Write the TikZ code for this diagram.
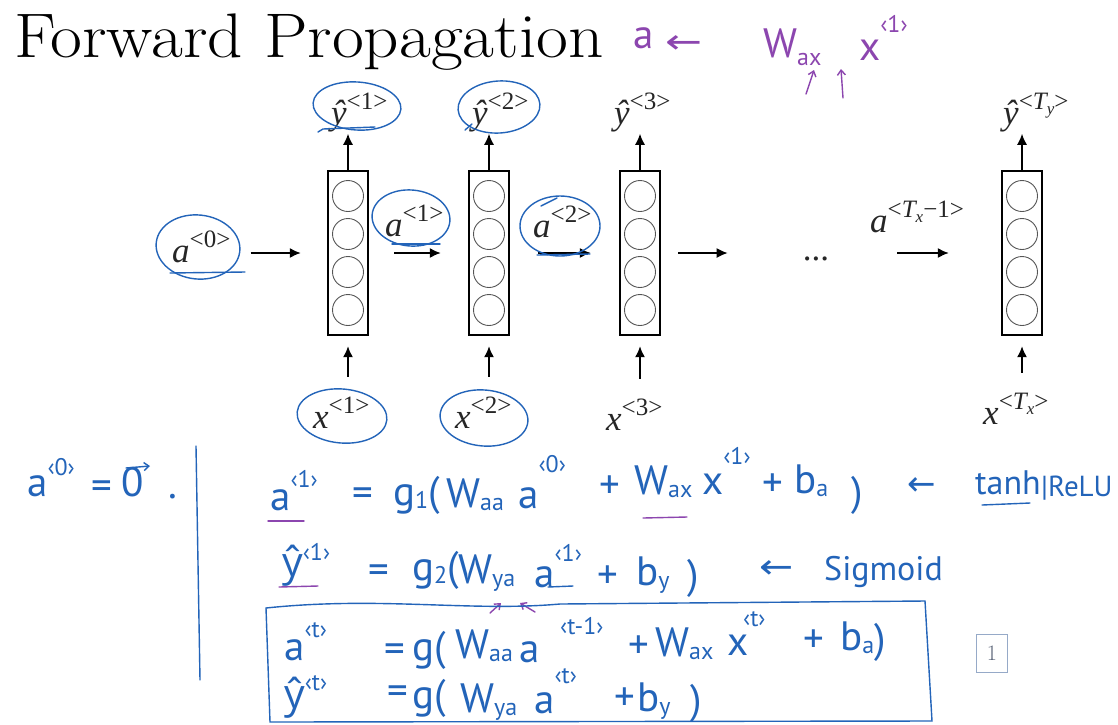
\RequirePackage{fix-cm}
\documentclass[tikz,border=0pt]{standalone}
\usepackage{fontspec}
\newfontfamily\hand{PT Sans}
\newfontfamily\handy{Open Sans}
\newfontfamily\sym{DejaVu Sans}
\newfontfamily\labf{Liberation Serif}
\usetikzlibrary{arrows.meta}
\definecolor{hblue}{RGB}{35,100,185}
\definecolor{hpurple}{RGB}{140,70,175}
\definecolor{circgray}{RGB}{85,85,85}
\definecolor{pbord}{RGB}{150,170,200}
\definecolor{pnum}{RGB}{90,100,120}
\newcommand\hsup[2][20pt]{\raisebox{#1}{\fontsize{24}{24}\selectfont #2}}
\newcommand\hsub[2][-3pt]{\raisebox{#1}{\fontsize{24}{24}\selectfont #2}}
\newcommand\hy{{\handy ŷ}}
\newcommand\Lsup[1]{\raisebox{0.42em}{\fontsize{25}{25}\selectfont #1}}
\newcommand\Lsub[1]{\raisebox{-0.22em}{\fontsize{17}{17}\selectfont\itshape #1}}
\begin{document}
\begin{tikzpicture}[x=1pt,y=-1pt,
  cell/.style={draw, line width=2.4pt, minimum width=40pt, minimum height=164pt, inner sep=0pt},
  neuron/.style={circle, draw=circgray, line width=0.9pt, minimum size=31pt, inner sep=0pt},
  arr/.style={-{Latex[length=11pt,width=10pt]}, line width=1.5pt},
  lbl/.style={font=\labf\fontsize{35}{40}\selectfont, text=black!85, inner sep=0pt, anchor=base west},
  hw/.style={text=hblue, font=\hand\fontsize{41}{44}\selectfont, inner sep=0pt, anchor=base west},
  hws/.style={hw, font=\hand\fontsize{34}{36}\selectfont},
  hwar/.style={text=hblue, font=\sym\fontsize{34}{36}\selectfont, inner sep=0pt, anchor=west},
  hp/.style={hw, text=hpurple},
  ring/.style={draw=hblue, line width=1.4pt, line cap=round},
  pmark/.style={draw=hpurple, line width=1.4pt, line cap=round},
  barb/.style={-{Straight Barb[length=5pt,width=8pt]}}]
\useasboundingbox (0,0) rectangle (1118,724);
\fill[white] (0,0) rectangle (1118,724);

% title
\node[anchor=base west, inner sep=0pt, font=\fontsize{63}{70}\selectfont] (title) at (14,57) {\scalebox{1.1}[1]{Forward Propagation}};

% cells
\foreach \n/\x in {c1/348,c2/489,c3/640,cT/1022} {
  \node[cell] (\n) at (\x,253) {};
  \foreach \k/\j in {-57/1,-19/2,19/3,57/4}
    \node[neuron] (\n-\j) at (\x,253+\k) {};
}

% labels
\node[lbl] (y1) at (331,124) {{\itshape ŷ}\Lsup{<1>}};
\node[lbl] (y2) at (472,124) {{\itshape ŷ}\Lsup{<2>}};
\node[lbl] (y3) at (614,124) {{\itshape ŷ}\Lsup{<3>}};
\node[lbl] (yT) at (1003,124) {{\itshape ŷ}\Lsup{<{\itshape T}\Lsub{y}>}};
\node[lbl] (x1) at (313,428) {{\itshape x}\Lsup{<1>}};
\node[lbl] (x2) at (455,428) {{\itshape x}\Lsup{<2>}};
\node[lbl] (x3) at (606,430) {{\itshape x}\Lsup{<3>}};
\node[lbl] (xT) at (983,424) {{\itshape x}\Lsup{<{\itshape T}\Lsub{x}>}};
\node[lbl] (a0) at (172,262) {{\itshape a}\Lsup{<0>}};
\node[lbl] (a1) at (385,236) {{\itshape a}\Lsup{<1>}};
\node[lbl] (a2) at (533,237) {{\itshape a}\Lsup{<2>}};
\node[lbl] (aT) at (870,232) {{\itshape a}\Lsup{<{\itshape T}\Lsub{x}−1>}};
\node[lbl, anchor=center] (dots) at (816,259) {...};

% arrows
\foreach \c/\l in {c1/y1,c2/y2,c3/y3,cT/yT}
  \draw[arr, shorten >=2pt] (\c.north) -- (\c.north |- \l.south);
\foreach \c/\l in {c1/x1,c2/x2,c3/x3,cT/xT}
  \draw[arr, shorten <=20pt, shorten >=10pt] (\c.south |- \l.north) -- (\c.south);
\draw[arr, shorten <=20pt, shorten >=26pt] (a0.east |- c1.west) -- (c1.west);
\draw[arr, shorten <=25pt, shorten >=27pt] (c1.east) -- (c2.west);
\draw[arr, shorten <=28pt, shorten >=28pt] (c2.east) -- (c3.west);
\draw[arr, shorten <=17pt, shorten >=75pt] (c3.east) -- (dots.west |- c3.east);
\draw[arr, shorten <=68pt, shorten >=52pt] (dots.east |- cT.west) -- (cT.west);

% blue rings and marks
\draw[ring, rotate around={-4:(357,106)}] (357,106) ellipse [x radius=44pt, y radius=24pt];
\draw[ring] (318,132) -- (323,129) -- (375,127);
\draw[ring, rotate around={4:(499,107)}] (499,107) ellipse [x radius=41pt, y radius=26pt];
\draw[ring] (465,130) -- (472,124);
\draw[ring, rotate around={-6:(198,247)}] (198,247) ellipse [x radius=42pt, y radius=32pt];
\draw[ring] (170,273) -- (245,272);
\draw[ring, rotate around={-5:(411,218)}] (411,218) ellipse [x radius=39pt, y radius=28pt];
\draw[ring] (392,244) -- (440,244);
\draw[ring] (560,226) ellipse [x radius=40pt, y radius=30pt];
\draw[ring] (537,255) -- (590,254);
\draw[ring] (541,206) -- (557,198);
\draw[ring, rotate around={-5:(342,416)}] (342,416) ellipse [x radius=45pt, y radius=27pt];
\draw[ring, rotate around={-5:(484,418)}] (484,418) ellipse [x radius=44pt, y radius=28pt];

% purple annotation
\node[hp] (pa) at (633,48) {a};
\node[hwar, text=hpurple] (parr) at (665,45) {\scalebox{1.3}[1]{←}};
\node[hp] (pw) at (763,57) {W\hsub[-8pt]{ax}};
\node[hp] (px) at (859,60) {x\hsup[28pt]{‹1›}};
\draw[pmark, barb] (806,94) -- (814,70);
\draw[pmark, barb] (843,98) -- (841,69);

% a<0> = 0
\node[hw] (z0a) at (27,496) {a\hsup[21pt]{‹0›}};
\node[hw] (z0eq) at (91,499) {=};
\node[hw] (z0z) at (121,496) {0};
\draw[ring, barb] (126,468) -- (150,466);
\node[hw] (z0d) at (168,498) {.};
\draw[ring] (196,446) -- (200,680);

% line 1
\node[hw] (l1a) at (270,510) {a\hsup[23pt]{‹1›}};
\node[hw] (l1eq) at (352,506) {=};
\node[hw] (l1g) at (393,505) {g\hsub{1}(};
\node[hw] (l1w) at (446,507) {W\hsub{aa}};
\node[hw] (l1a0) at (518,508) {a\hsup[36pt]{‹0›}};
\node[hw] (l1p) at (599,498) {+};
\node[hw] (l1wx) at (634,494) {W\hsub{ax}};
\node[hw] (l1x) at (702,494) {x\hsup[30pt]{‹1›}};
\node[hw] (l1p2) at (762,496) {+};
\node[hw] (l1b) at (794,493) {b\hsub{a}};
\node[hw] (l1r) at (851,505) {)};
\node[hwar] (l1arr) at (907,487) {←};
\node[hws] (l1t) at (975,494) {tanh};
\node[hws, font=\hand\fontsize{29}{32}\selectfont] (l1r2) at (1041,496) {|ReLU};
\draw[pmark] (268,521) -- (304,521);
\draw[pmark] (643,518) -- (687,517);
\draw[ring] (982,505) -- (1030,503);

% line 2
\node[hw] (l2y) at (282,576) {\hy\hsup[16pt]{‹1›}};
\node[hw] (l2eq) at (368,583) {=};
\node[hw] (l2g) at (412,580) {g\hsub{2}(};
\node[hw] (l2w) at (458,583) {W\hsub{ya}};
\node[hw] (l2a) at (534,587) {a\hsup[26pt]{‹1›}};
\node[hw] (l2p) at (597,588) {+};
\node[hw] (l2b) at (636,585) {b\hsub{y}};
\node[hw] (l2r) at (687,588) {)};
\node[hwar] (l2arr) at (759,570) {\scalebox{1.2}[1]{←}};
\node[hws] (l2s) at (824,580) {Sigmoid};
\draw[pmark] (279,587) -- (318,586);
\draw[ring] (548,587) -- (573,586);
\draw[pmark, barb] (490,613) -- (501,603);
\draw[pmark, barb] (535,612) -- (520,603);

% boxed equations
\draw[ring] (266,608) .. controls (380,596) and (470,612) .. (560,604) -- (925,601) -- (932,721) -- (270,722) -- cycle;
\node[hw] (l3a) at (284,660) {a\hsup[23pt]{‹t›}};
\node[hw] (l3eq) at (384,662) {=};
\node[hw] (l3g) at (412,660) {g(};
\node[hw] (l3w) at (455,658) {W\hsub{aa}};
\node[hw] (l3a2) at (519,662) {a};
\node[hw, font=\hand\fontsize{24}{24}\selectfont] (l3s) at (560,634) {‹t-1›};
\node[hw] (l3p) at (628,658) {+};
\node[hw] (l3wx) at (655,656) {W\hsub{ax}};
\node[hw] (l3x) at (727,655) {x};
\node[hw, font=\hand\fontsize{24}{24}\selectfont] (l3xs) at (743,626) {‹t›};
\node[hw] (l3p2) at (803,652) {+};
\node[hw] (l3b) at (840,650) {b\hsub{a}};
\node[hw] (l3r) at (874,652) {)};

\node[hw] (l4y) at (284,708) {\hy\hsup[18pt]{‹t›}};
\node[hw] (l4eq) at (387,704) {=};
\node[hw] (l4g) at (412,708) {g(};
\node[hw] (l4w) at (460,712) {W\hsub{ya}};
\node[hw] (l4a) at (534,713) {a\hsup[30pt]{‹t›}};
\node[hw] (l4p) at (614,710) {+};
\node[hw] (l4b) at (637,711) {b\hsub{y}};
\node[hw] (l4r) at (690,713) {)};

% slide number
\node[draw=pbord, line width=1pt, text=pnum, minimum width=31pt, minimum height=38pt, inner sep=0pt, font=\fontsize{22}{24}\selectfont] (pg) at (992,653) {1};
\end{tikzpicture}
\end{document}
